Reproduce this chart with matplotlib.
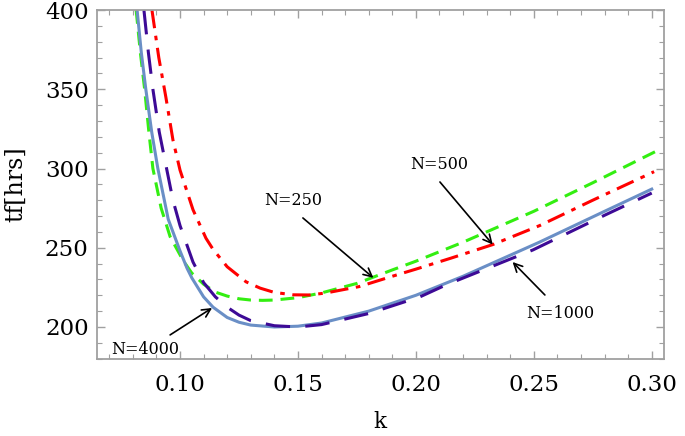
import matplotlib.pyplot as plt
from matplotlib.ticker import MultipleLocator

# values
k_250 = [0.0814, 0.0832, 0.085, 0.0868, 0.0885, 0.0920, 0.0958, 0.1013, 0.105, 0.110, 0.115, 0.120,
         0.125, 0.130, 0.135, 0.140, 0.150, 0.160, 0.175, 0.190, 0.200, 0.220, 0.250, 0.275, 0.302]
tf_250 = [400, 373, 350, 323, 300, 275, 257, 242, 234, 227, 222, 219.5,
          217.8, 217, 216.8, 217, 218.5, 221.5, 227.5, 236, 241.5, 253.5, 273, 291, 311]

k_500 = [0.0881, 0.091, 0.094, 0.097, 0.100, 0.1055, 0.111, 0.114, 0.120, 0.128, 0.134, 0.140,
         0.148, 0.155, 0.162, 0.176, 0.190, 0.200, 0.215, 0.2326, 0.2525, 0.275, 0.301]
tf_500 = [400, 370, 345, 318, 299, 274, 256, 249, 238, 228.5, 224.5, 221.8,
          220.3, 220.2, 221.5, 225.5, 232, 236.5, 243.5, 252, 264, 280, 298]

k_1000 = [0.0847, 0.0866, 0.0885, 0.0912, 0.0943, 0.0970, 0.100, 0.1055, 0.110, 0.115, 0.120, 0.125,
          0.130, 0.140, 0.150, 0.160, 0.180, 0.2017, 0.2127, 0.2496, 0.280, 0.300]
tf_1000 = [400, 373, 350, 323, 300, 280, 264, 241, 228, 219, 212.5, 207.5,
           204, 200.8, 200, 201.5, 208.5, 219, 226.5, 248.6, 270.5, 284.5]

k_4000 = [0.0818, 0.0836, 0.0855, 0.0880, 0.0906, 0.095, 0.100, 0.103, 0.105, 0.110, 0.114, 0.120,
          0.125, 0.130, 0.140, 0.150, 0.160, 0.180, 0.200, 0.220, 0.2525, 0.280, 0.300]
tf_4000 = [400, 373, 350, 323, 300, 268, 248, 237, 231, 219, 212.5, 206,
           203, 201.2, 200, 200.5, 202.5, 210, 220, 232, 253.6, 273, 287]

# labels: text, text position, arrow tail, arrow tip
labels = ['N=250', 'N=500', 'N=1000', 'N=4000']
text_pos = [(0.1479, 280), (0.2097, 302.8), (0.2610, 208.2), (0.0852, 185.5)]
tails = [(0.1521, 268.8), (0.2102, 291.5), (0.2547, 220.2), (0.0958, 195)]
tips = [(0.182, 231), (0.2326, 252), (0.241, 241), (0.1136, 212)]

plt.rcParams['font.family'] = 'DejaVu Serif'

fig = plt.figure(figsize=(6.85, 4.36), dpi=100)
ax = fig.add_axes([0.1416, 0.1766, 0.8274, 0.8004])

ax.plot(k_250, tf_250, color='#33ee11', lw=2.2, ls=(0, (4.5, 2.6)))
ax.plot(k_500, tf_500, color='#ff0000', lw=2.2, ls=(0, (6, 2.5, 1.5, 2.5)))
ax.plot(k_4000, tf_4000, color='#6a8fc6', lw=2.2)
ax.plot(k_1000, tf_1000, color='#3d0a96', lw=2.2, ls=(0, (8, 5)))

ax.set_xlim(0.0648, 0.3051)
ax.set_ylim(179.8, 400)
ax.xaxis.set_minor_locator(MultipleLocator(0.01))
ax.yaxis.set_major_locator(MultipleLocator(50))
ax.yaxis.set_minor_locator(MultipleLocator(10))
ax.set_xticks([0.10, 0.15, 0.20, 0.25, 0.30])
ax.set_xticklabels(['0.10', '0.15', '0.20', '0.25', '0.30'])

for s in ax.spines.values():
    s.set_color('#a0a0a0')
    s.set_linewidth(1.3)
ax.tick_params(which='both', direction='in', top=True, right=True, color='#a0a0a0', labelsize=16.5)
ax.tick_params(which='major', length=6, width=1)
ax.tick_params(which='minor', length=3.5, width=0.8)
ax.tick_params(axis='x', pad=11)
ax.tick_params(axis='y', pad=6)

ax.set_xlabel('k', fontsize=15.5)
ax.xaxis.set_label_coords(0.5, -0.148)
ax.set_ylabel('tf[hrs]', fontsize=17)
ax.yaxis.set_label_coords(-0.123, 0.5)

for lab, tp, tl, tip in zip(labels, text_pos, tails, tips):
    ax.text(tp[0], tp[1], lab, fontsize=11.5, ha='center', va='center')
    ax.annotate('', xy=tip, xytext=tl,
                arrowprops=dict(arrowstyle='->,head_length=0.6,head_width=0.3',
                                color='black', lw=1.2, shrinkA=0, shrinkB=0))

fig.savefig('out.png', dpi=100)
